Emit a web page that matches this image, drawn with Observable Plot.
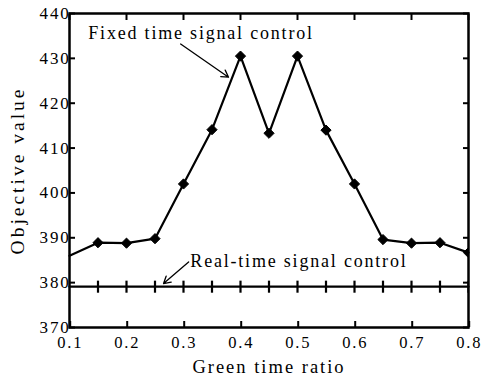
<!DOCTYPE html>
<html><head><meta charset="utf-8">
<script src="https://cdn.jsdelivr.net/npm/d3@7"></script>
<script src="https://cdn.jsdelivr.net/npm/@observablehq/plot@0.6"></script>
<style>body{margin:0;background:#fff} svg text{font-family:'Liberation Serif','Times New Roman',serif !important; letter-spacing:1.8px}</style>
</head><body><div id="chart"></div>
<script>
const ratios = [0.1,0.15,0.2,0.25,0.3,0.35,0.4,0.45,0.5,0.55,0.6,0.65,0.7,0.75,0.8];
const fixedValues = [386.0,388.9,388.8,389.8,402.0,414.1,430.5,413.3,430.5,414.0,402.0,389.6,388.8,388.9,386.7];
const realTimeValues = [379.1,379.1,379.1,379.1,379.1,379.1,379.1,379.1,379.1,379.1,379.1,379.1,379.1,379.1,379.1];
const xTicks = [0.1,0.2,0.3,0.4,0.5,0.6,0.7,0.8];
const yTicks = [370,380,390,400,410,420,430,440];
const labels = [
  {text:"Fixed time signal control", x:0.133, y:435.6},
  {text:"Real-time signal control", x:0.312, y:384.7}
];
const arrows = [
  {x1:0.295, y1:433.2, x2:0.379, y2:425.8},
  {x1:0.309, y1:384.6, x2:0.265, y2:379.8}
];

const fixed = ratios.map((x,i)=>({x, y: fixedValues[i]}));
const real = ratios.map((x,i)=>({x, y: realTimeValues[i]}));
const vbar = {draw(ctx, size){ const h = Math.sqrt(size); ctx.moveTo(0,-h); ctx.lineTo(0,h); }};
const font = "'Liberation Serif', serif";

const chart = Plot.plot({
  width: 481, height: 376,
  marginLeft: 69, marginRight: 13, marginTop: 13, marginBottom: 49,
  style: {fontFamily: font, fontSize: "16px", color: "#000", background: "#fff"},
  x: {domain: [0.1, 0.8]},
  y: {domain: [370, 440]},
  marks: [
    Plot.axisX({ticks: xTicks, tickSize: -6, tickFormat: d3.format(".1f"), tickPadding: 15, dx: 0.7, strokeWidth: 2, fontSize: 16.5, fontFamily: font, label: null}),
    Plot.axisX({ticks: [], label: "Green time ratio", labelAnchor: "center", labelArrow: "none", labelOffset: 45, fontSize: 18.5, fontFamily: font}),
    Plot.axisX({anchor: "top", ticks: xTicks, tickSize: -6, tickFormat: null, strokeWidth: 2, label: null, text: null}),
    Plot.axisY({ticks: yTicks, tickSize: -6, tickPadding: 5, strokeWidth: 2, fontSize: 17, fontFamily: font, label: null}),
    Plot.axisY({ticks: [], label: "Objective value", labelAnchor: "center", labelArrow: "none", labelOffset: 59, fontSize: 19.5, fontFamily: font}),
    Plot.axisY({anchor: "right", ticks: yTicks, tickSize: -6, strokeWidth: 2, label: null, text: null}),
    Plot.line(real, {x:"x", y:"y", stroke:"#000", strokeWidth: 2.2}),
    Plot.dot(real.slice(1), {x:"x", y:"y", symbol: vbar, r: 3.4, stroke:"#000", strokeWidth: 2.2, clip: "frame"}),
    Plot.line(fixed, {x:"x", y:"y", stroke:"#000", strokeWidth: 2.2}),
    Plot.dot(fixed.slice(1), {x:"x", y:"y", symbol:"diamond2", r: 4.6, fill:"#000", stroke:"#000", strokeWidth: 1, clip: "frame"}),
    Plot.text(labels, {x:"x", y:"y", text:"text", textAnchor:"start", fontSize: 18, fill:"#000", fontFamily: font}),
    Plot.arrow(arrows, {x1:"x1", y1:"y1", x2:"x2", y2:"y2", stroke:"#000", strokeWidth: 1.3, headLength: 9}),
    Plot.frame({stroke:"#000", strokeWidth: 2.5})
  ]
});
d3.select(chart).selectAll('g[aria-label="x-axis label"] text').style("letter-spacing", "2px");
d3.select(chart).selectAll('g[aria-label="y-axis label"] text').style("letter-spacing", "3px");
document.getElementById("chart").append(chart);
</script>
</body></html>
